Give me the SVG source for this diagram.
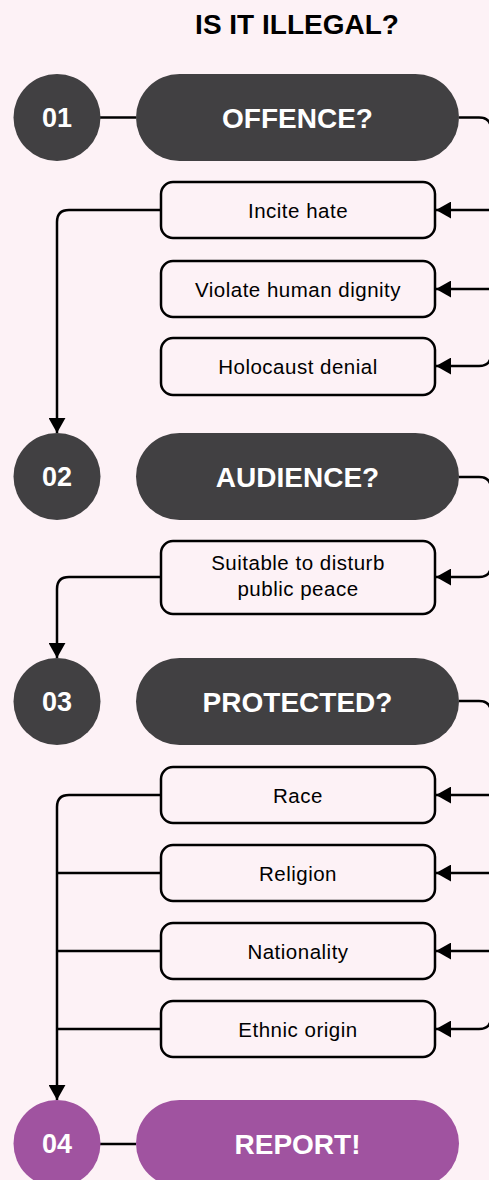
<svg xmlns="http://www.w3.org/2000/svg" width="489" height="1180" viewBox="0 0 489 1180">
  <defs>
    <marker id="arrow" viewBox="0 0 16 18" refX="16" refY="9" markerWidth="15" markerHeight="17" markerUnits="userSpaceOnUse" orient="auto">
      <path d="M0,0 L16,9 L0,18 Z" fill="#000"/>
    </marker>
    <style>
      .bg { fill: #fdf2f6; }
      .title { font-family: "Liberation Sans", Arial, sans-serif; font-weight: bold; font-size: 28px; fill: #000; text-anchor: middle; }
      .dark { fill: #414042; }
      .purple { fill: #a053a0; }
      .num { font-family: "Liberation Sans", Arial, sans-serif; font-weight: bold; font-size: 27px; fill: #fff; text-anchor: middle; }
      .pilltext { font-family: "Liberation Sans", Arial, sans-serif; font-weight: bold; font-size: 28px; fill: #fff; text-anchor: middle; }
      .box { fill: #fdf2f6; stroke: #000; stroke-width: 2.5; }
      .boxtext { font-family: "Liberation Sans", Arial, sans-serif; font-size: 20.5px; fill: #000; text-anchor: middle; letter-spacing: 0.5px; }
      .line { fill: none; stroke: #000; stroke-width: 2.5; }
      .arr { marker-end: url(#arrow); }
    </style>
  </defs>
  <rect class="bg" x="0" y="0" width="489" height="1180"/>
  <text class="title" x="297" y="34">IS IT ILLEGAL?</text>

  <g id="connectors">
    <path class="line" d="M100,117.5 H136"/>
    <path class="line" d="M100,1144 H136"/>
    <path class="line arr" d="M459,117.5 H479 Q491,117.5 491,129.5 V354 Q491,366 479,366 H436"/>
    <path class="line arr" d="M491,210 H436"/>
    <path class="line arr" d="M491,289 H436"/>
    <path class="line arr" d="M161,210 H69 Q57,210 57,222 V433"/>
    <path class="line arr" d="M459,477 H479 Q491,477 491,489 V565 Q491,577 479,577 H436"/>
    <path class="line arr" d="M161,577 H69 Q57,577 57,589 V658"/>
    <path class="line arr" d="M459,701 H479 Q491,701 491,713 V1017 Q491,1029 479,1029 H436"/>
    <path class="line arr" d="M491,795 H436"/>
    <path class="line arr" d="M491,873 H436"/>
    <path class="line arr" d="M491,951 H436"/>
    <path class="line arr" d="M161,795 H69 Q57,795 57,807 V1100"/>
    <path class="line" d="M161,873 H57"/>
    <path class="line" d="M161,951 H57"/>
    <path class="line" d="M161,1029 H57"/>
  </g>

  <g id="step01">
    <circle class="dark" cx="57" cy="117.5" r="43.5"/>
    <text class="num" x="57" y="127">01</text>
  </g>
  <g id="offence">
    <rect class="dark" x="136" y="74" width="323" height="87" rx="43.5"/>
    <text class="pilltext" x="297.5" y="127.5">OFFENCE?</text>
  </g>
  <g id="incite">
    <rect class="box" x="161" y="182" width="274" height="56" rx="12"/>
    <text class="boxtext" x="298" y="218">Incite hate</text>
  </g>
  <g id="dignity">
    <rect class="box" x="161" y="261" width="274" height="56" rx="12"/>
    <text class="boxtext" x="298" y="297">Violate human dignity</text>
  </g>
  <g id="holocaust">
    <rect class="box" x="161" y="338" width="274" height="57" rx="12"/>
    <text class="boxtext" x="298" y="374">Holocaust denial</text>
  </g>

  <g id="step02">
    <circle class="dark" cx="57" cy="476.5" r="43.5"/>
    <text class="num" x="57" y="486">02</text>
  </g>
  <g id="audience">
    <rect class="dark" x="136" y="433" width="323" height="87" rx="43.5"/>
    <text class="pilltext" x="297.5" y="486.5">AUDIENCE?</text>
  </g>
  <g id="peace">
    <rect class="box" x="161" y="541" width="274" height="73" rx="12"/>
    <text class="boxtext" x="298" y="570">Suitable to disturb</text>
    <text class="boxtext" x="298" y="596">public peace</text>
  </g>

  <g id="step03">
    <circle class="dark" cx="57" cy="701.5" r="43.5"/>
    <text class="num" x="57" y="711">03</text>
  </g>
  <g id="protected">
    <rect class="dark" x="136" y="658" width="323" height="87" rx="43.5"/>
    <text class="pilltext" x="297.5" y="711.5">PROTECTED?</text>
  </g>
  <g id="race">
    <rect class="box" x="161" y="767" width="274" height="56" rx="12"/>
    <text class="boxtext" x="298" y="803">Race</text>
  </g>
  <g id="religion">
    <rect class="box" x="161" y="845" width="274" height="56" rx="12"/>
    <text class="boxtext" x="298" y="881">Religion</text>
  </g>
  <g id="nationality">
    <rect class="box" x="161" y="923" width="274" height="56" rx="12"/>
    <text class="boxtext" x="298" y="959">Nationality</text>
  </g>
  <g id="ethnic">
    <rect class="box" x="161" y="1001" width="274" height="56" rx="12"/>
    <text class="boxtext" x="298" y="1037">Ethnic origin</text>
  </g>

  <g id="step04">
    <circle class="purple" cx="57" cy="1143.5" r="43.5"/>
    <text class="num" x="57" y="1153">04</text>
  </g>
  <g id="report">
    <rect class="purple" x="136" y="1100" width="323" height="87" rx="43.5"/>
    <text class="pilltext" x="297.5" y="1154">REPORT!</text>
  </g>
</svg>
